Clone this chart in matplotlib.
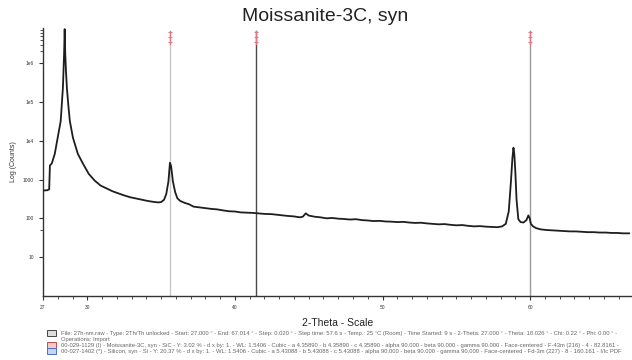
"""
XRD pattern, log counts against 2-theta, with reference lines for moissanite-3C.
"""

import matplotlib.pyplot as plt
import matplotlib.ticker as ticker
from matplotlib.patches import Rectangle

plt.rcParams["font.family"] = ["Liberation Sans", "DejaVu Sans"]

# scan: 2-theta (deg) and counts
two_theta = [27.0, 27.3, 27.42, 27.47, 27.6, 27.8, 28.0, 28.2, 28.35, 28.43, 28.47,
             28.51, 28.56, 28.62, 28.72, 28.82, 29.03, 29.36, 29.7, 30.1, 30.5,
             30.9, 31.3, 31.7, 32.1, 32.5, 32.9, 33.3, 33.7, 34.1, 34.5, 34.8,
             35.0, 35.2, 35.35, 35.5, 35.6, 35.68, 35.8, 35.95, 36.1, 36.3, 36.6,
             36.9, 37.2, 37.6, 38.0, 38.4, 38.8, 39.2, 39.6, 40.0, 40.4, 40.8,
             41.2, 41.6, 42.0, 42.5, 43.0, 43.5, 44.0, 44.4, 44.6, 44.8, 45.0,
             45.4, 45.8, 46.2, 46.6, 47.0, 47.4, 47.8, 48.2, 48.6, 49.0, 49.4,
             49.8, 50.2, 50.6, 51.0, 51.4, 51.8, 52.2, 52.6, 53.0, 53.4, 53.8,
             54.2, 54.6, 55.0, 55.4, 55.8, 56.2, 56.6, 57.0, 57.4, 57.8, 58.1,
             58.35, 58.55, 58.7, 58.8, 58.87, 58.93, 59.0, 59.08, 59.2, 59.35,
             59.55, 59.75, 59.88, 59.97, 60.05, 60.2, 60.4, 60.7, 61.1, 61.5,
             61.9, 62.3, 62.7, 63.1, 63.5, 63.9, 64.3, 64.7, 65.1, 65.5, 65.9,
             66.3, 66.7]
counts = [520, 530, 560, 2300, 2600, 4600, 12000, 32000, 230000, 1700000, 7500000,
          1700000, 600000, 230000, 80000, 32000, 12000, 4600, 2600, 1400, 940,
          700, 590, 500, 440, 390, 350, 325, 300, 280, 265, 257,
          262, 300, 420, 900, 2700, 2200, 900, 480, 330, 280, 250,
          230, 200, 191, 182, 175, 170, 160, 152, 150, 142, 140,
          138, 134, 130, 128, 122, 116, 112, 106, 110, 134, 118,
          110, 106, 100, 102, 98, 96, 93, 95, 90, 88, 85,
          86, 83, 82, 80, 81, 78, 76, 77, 74, 72, 70,
          71, 68, 66, 67, 64, 62, 63, 61, 60, 59, 62,
          72, 150, 900, 3600, 6600, 4500, 1500, 300, 95, 80,
          78, 90, 119, 100, 72, 62, 56, 52, 50, 49,
          48, 47, 46, 46, 45, 44, 44, 43, 43, 42, 42,
          41, 41]

# reference pattern positions (moissanite-3C, SiC)
ref_positions = [35.6, 41.4, 60.0]
ref_colors = ["#c8c8c8", "#4a4a4a", "#9a9a9a"]

y_labels = {10: "10", 100: "100", 1000: "1000", 1e4: "1e4", 1e5: "1e5", 1e6: "1e6"}

legend_lines = [
    "File: 27h-nm.raw - Type: 2Th/Th unlocked - Start: 27.000 ° - End: 67.014 ° - Step: 0.020 ° - Step time: 57.6 s - Temp.: 25 °C (Room) - Time Started: 9 s - 2-Theta: 27.000 ° - Theta: 18.026 ° - Chi: 0.22 ° - Phi: 0.00 ° -",
    "Operations: Import",
    "00-029-1129 (I) - Moissanite-3C, syn - SiC - Y: 3.02 % - d x by: 1. - WL: 1.5406 - Cubic - a 4.35890 - b 4.35890 - c 4.35890 - alpha 90.000 - beta 90.000 - gamma 90.000 - Face-centered - F-43m (216) - 4 - 82.8161 -",
    "00-027-1402 (*) - Silicon, syn - Si - Y: 20.37 % - d x by: 1. - WL: 1.5406 - Cubic - a 5.43088 - b 5.43088 - c 5.43088 - alpha 90.000 - beta 90.000 - gamma 90.000 - Face-centered - Fd-3m (227) - 8 - 160.161 - I/Ic PDF",
]

fig = plt.figure(figsize=(6.32, 3.6), dpi=100)
ax = fig.add_axes([0.068, 0.178, 0.932, 0.744])

for pos, col in zip(ref_positions, ref_colors):
    ax.axvline(pos, color=col, lw=1.0, ymax=0.99, zorder=1)
    ax.plot([pos, pos], [3.2e6, 6.8e6], color="#e07888", lw=1.0, zorder=2)
    ax.plot([pos, pos, pos], [3.4e6, 4.6e6, 6.2e6], ls="none", marker="_",
            ms=3, mew=0.8, color="#e07888", zorder=2)

ax.plot(two_theta, counts, color="#1e1e1e", lw=1.3, zorder=3)

ax.set_yscale("log")
ax.set_xlim(27, 66.9)
ax.set_ylim(1, 8e6)

ax.xaxis.set_major_locator(ticker.FixedLocator([27, 30, 40, 50, 60]))
ax.xaxis.set_minor_locator(ticker.MultipleLocator(1))
ax.yaxis.set_major_locator(ticker.FixedLocator(list(y_labels)))
ax.yaxis.set_major_formatter(ticker.FuncFormatter(lambda v, p: y_labels.get(v, "")))
ax.yaxis.set_minor_locator(ticker.FixedLocator([50, 2e6, 3e6, 4e6, 5e6, 6e6, 7e6]))
ax.yaxis.set_minor_formatter(ticker.NullFormatter())
ax.tick_params(axis="both", which="major", labelsize=3.5, length=3, width=0.8,
               colors="#333333")
ax.tick_params(axis="both", which="minor", length=2, width=0.6, colors="#333333")

for side in ["top", "right"]:
    ax.spines[side].set_visible(False)
for side in ["left", "bottom"]:
    ax.spines[side].set_color("#333333")
    ax.spines[side].set_linewidth(1.0)

ax.set_ylabel("Log (Counts)", fontsize=5, color="#333333", labelpad=4)
ax.set_xlabel("2-Theta - Scale", fontsize=7.5, color="#222222", labelpad=6)
fig.text(0.514, 0.955, "Moissanite-3C, syn", ha="center", va="center",
         fontsize=14, color="#222222")

ys = [0.075, 0.058, 0.041, 0.024]
for text, y in zip(legend_lines, ys):
    fig.text(0.097, y, text, fontsize=4.2, color="#666666", va="center")

icons = [(ys[0], "#dddddd", "#444444"), (ys[2], "#f6c8c8", "#d04848"),
         (ys[3], "#c8d4f4", "#4870d0")]
for y, face, edge in icons:
    fig.patches.append(Rectangle((0.075, y - 0.008), 0.014, 0.016,
                                 transform=fig.transFigure,
                                 facecolor=face, edgecolor=edge, lw=0.7))

fig.savefig("out.png", dpi=100)
